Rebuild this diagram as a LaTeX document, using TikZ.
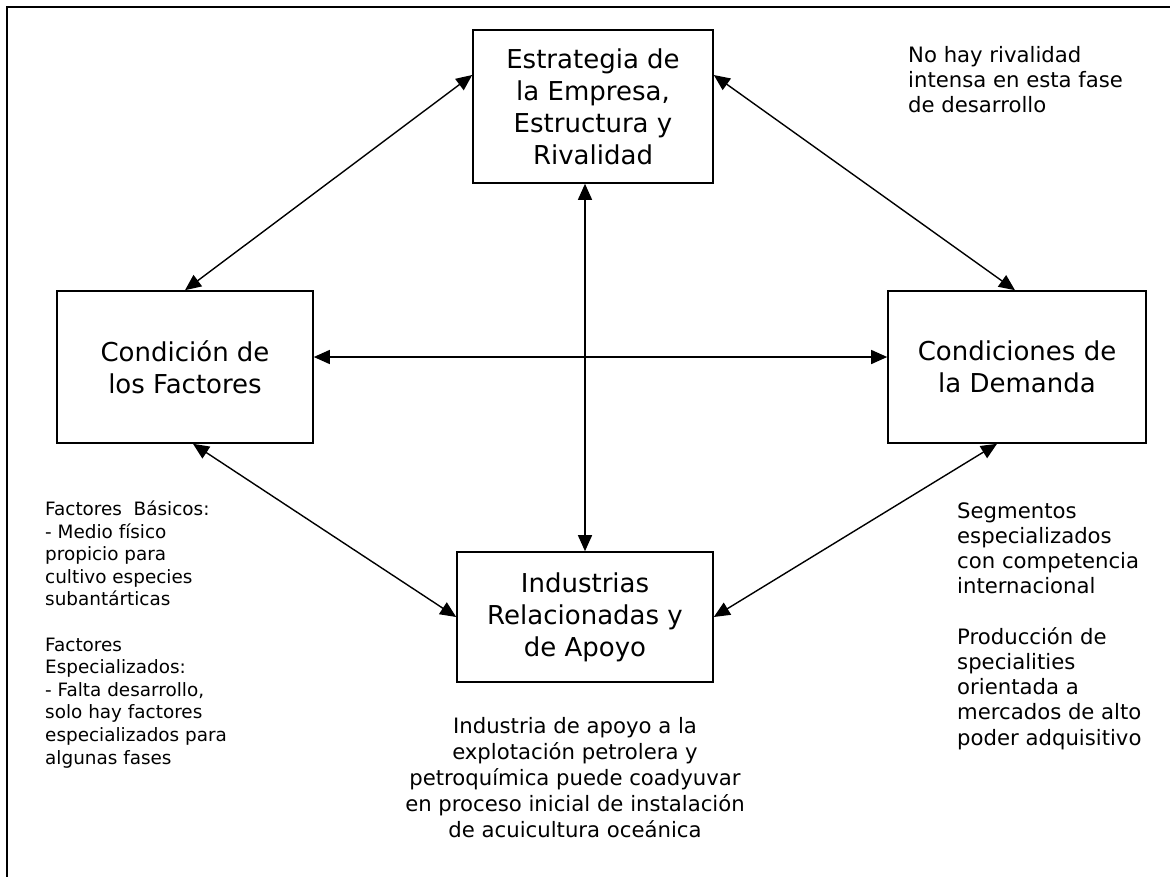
\documentclass[tikz,border=0pt]{standalone}
\usepackage{fontspec}
\setmainfont{DejaVu Sans}
\usetikzlibrary{arrows.meta}
\begin{document}
\begin{tikzpicture}[x=1pt,y=-1pt,
  box/.style={draw,line width=1.6pt,inner sep=0pt,align=center,
    font=\fontsize{26}{32}\selectfont},
  note/.style={inner sep=0pt,align=left,anchor=base west,
    font=\fontsize{21.2}{25}\selectfont},
  link/.style={line width=1.4pt,{Triangle[length=16pt,width=14pt]}-{Triangle[length=16pt,width=14pt]}}]
\useasboundingbox (0,0) rectangle (1170,876);
\begin{scope}
\clip (0,0) rectangle (1170,876);
\draw[line width=1.8pt] (7,7) rectangle (1180,890);
\end{scope}
% boxes
\node[box,minimum width=240pt,minimum height=153pt] (est) at (593,106.5)
  {Estrategia de\\la Empresa,\\Estructura y\\Rivalidad};
\node[box,minimum width=256pt,minimum height=152pt] (fac) at (185,367)
  {Condición de\\los Factores};
\node[box,minimum width=258pt,minimum height=152pt] (dem) at (1017,367)
  {Condiciones de\\la Demanda};
\node[box,minimum width=256pt,minimum height=130pt] (ind) at (585,617)
  {Industrias\\Relacionadas y\\de Apoyo};
% connectors
\draw[link] (fac.north) -- ([yshift=31.5pt]est.west);
\draw[link] ([yshift=31.5pt]est.east) -- ([xshift=-2pt]dem.north);
\draw[link] ([xshift=-8pt]est.south) -- (ind.north);
\draw[link] ([yshift=10pt]fac.east) -- ([yshift=10pt]dem.west);
\draw[link] ([xshift=8pt]fac.south) -- (ind.west);
\draw[link] ([xshift=-20pt]dem.south) -- (ind.east);
% notes (anchored at the baseline of their last line)
\node[note] (n1) at (908,112) {No hay rivalidad\\intensa en esta fase\\de desarrollo};
\node[note,font=\fontsize{18.4}{22.6}\selectfont] (n2) at (45,764)
  {Factores\ \ Básicos:\\- Medio físico\\propicio para\\cultivo especies\\subantárticas\\[22.6pt]Factores\\Especializados:\\- Falta desarrollo,\\solo hay factores\\especializados para\\algunas fases};
\node[note,font=\fontsize{21.2}{25.2}\selectfont] (n3) at (957,745)
  {Segmentos\\especializados\\con competencia\\internacional\\[25.2pt]Producción de\\specialities\\orientada a\\mercados de alto\\poder adquisitivo};
\node[note,align=center,anchor=base,font=\fontsize{21.2}{26}\selectfont] (n4) at (575,837)
  {Industria de apoyo a la\\explotación petrolera y\\petroquímica puede coadyuvar\\en proceso inicial de instalación\\de acuicultura oceánica};
\end{tikzpicture}
\end{document}
